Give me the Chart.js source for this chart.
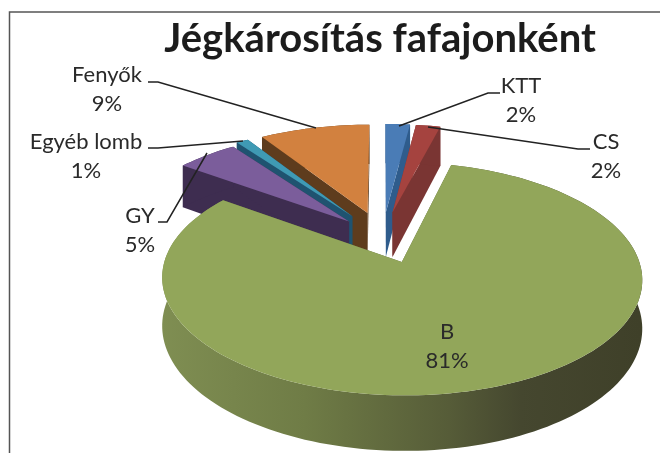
<!DOCTYPE html>
<html>
<head>
<meta charset="utf-8">
<style>
  html, body { margin: 0; padding: 0; background: #fff; }
  canvas { display: block; filter: blur(0.4px); }
</style>
</head>
<body>
<canvas id="pieChart" width="660" height="453"></canvas>
<script src="https://cdn.jsdelivr.net/npm/chart.js@4"></script>
<script>
const categories = ['KTT', 'CS', 'B', 'GY', 'Egyéb lomb', 'Fenyők'];
const values = [2, 2, 81, 5, 1, 9];
const topColors = ['#4a7cb6', '#a5433f', '#92a65a', '#7b5d9b', '#3f9ab4', '#d2813f'];
const wallColors = ['#2f5c8c', '#7a3533', '#5f6a3c', '#3e2d50', '#1f5370', '#5e3c1d'];
const offsets = [24, 24, 24, 21, 24, 24];
const title = 'Jégkárosítás fafajonként';

// label centre + leader line for each slice, same order as categories
const labelPos = [
  { x: 521, y: 86, line: [[399, 126], [488, 93], [500, 93]] },
  { x: 606, y: 142, line: [[428, 127], [578, 149], [590, 149]] },
  { x: 447, y: 332, line: null },
  { x: 140, y: 216, line: [[207, 153], [167, 222], [158, 222]] },
  { x: 86, y: 142, line: [[243, 141], [158, 148], [148, 148]] },
  { x: 107, y: 75, line: [[316, 128], [158, 82], [148, 82]] }
];

// fake 3D: perspective view of the pie plane
const view = { cx: 382.5, cy: 237, a: 230, b: 107, k: 0.14, depth: 46 };
const drawOrder = [5, 4, 3, 0, 1, 2];

function project(u, v) {
  const w = 1 - view.k * v;
  return { x: view.cx + view.a * u / w, y: view.cy + view.b * v / w, d: view.depth / w };
}

function slicePoints(arc) {
  const p = arc.getProps(['startAngle', 'endAngle', 'outerRadius'], true);
  const e = arc.options.offset / p.outerRadius;
  const mid = (p.startAngle + p.endAngle) / 2;
  const ox = e * Math.cos(mid), oy = e * Math.sin(mid);
  const steps = Math.max(2, Math.ceil((p.endAngle - p.startAngle) / 0.03));
  const rim = [];
  for (let i = 0; i <= steps; i++) {
    const t = p.startAngle + (p.endAngle - p.startAngle) * i / steps;
    rim.push(project(ox + Math.cos(t), oy + Math.sin(t)));
  }
  return { apex: project(ox, oy), rim };
}

function fillPath(ctx, pts, color) {
  ctx.beginPath();
  pts.forEach((q, i) => i ? ctx.lineTo(q.x, q.y) : ctx.moveTo(q.x, q.y));
  ctx.closePath();
  ctx.fillStyle = color;
  ctx.fill();
}

const lowered = (q) => ({ x: q.x, y: q.y + q.d });

const pie3d = {
  id: 'pie3d',
  beforeDatasetsDraw(chart) {
    const ctx = chart.ctx;
    const arcs = chart.getDatasetMeta(0).data;
    drawOrder.forEach((i) => {
      const s = slicePoints(arcs[i]);
      let rimFill = wallColors[i];
      if (i === 2) {
        rimFill = ctx.createLinearGradient(162, 0, 640, 0);
        rimFill.addColorStop(0, '#7f8e52');
        rimFill.addColorStop(0.3, '#6f7c46');
        rimFill.addColorStop(0.6, '#565c38');
        rimFill.addColorStop(0.75, '#45472f');
        rimFill.addColorStop(1, '#3f4029');
      }
      const first = s.rim[0], last = s.rim[s.rim.length - 1];
      fillPath(ctx, [s.apex, first, lowered(first), lowered(s.apex)], wallColors[i]);
      fillPath(ctx, [s.apex, last, lowered(last), lowered(s.apex)], wallColors[i]);
      fillPath(ctx, s.rim.concat(s.rim.slice().reverse().map(lowered)), rimFill);
      fillPath(ctx, [s.apex].concat(s.rim), topColors[i]);
    });
    return false; // the flat arcs are replaced by the ones above
  },
  afterDraw(chart) {
    const ctx = chart.ctx;
    ctx.save();
    // frame of the scanned chart
    ctx.strokeStyle = '#555';
    ctx.lineWidth = 1.5;
    ctx.beginPath();
    ctx.moveTo(9.5, 453);
    ctx.lineTo(9.5, 12);
    ctx.lineTo(660, 12);
    ctx.stroke();

    ctx.strokeStyle = '#222';
    ctx.lineWidth = 1.5;
    ctx.fillStyle = '#2a2a2a';
    ctx.font = '22px Lato';
    ctx.textAlign = 'center';
    ctx.textBaseline = 'middle';
    categories.forEach((name, i) => {
      const pos = labelPos[i];
      ctx.fillText(name, pos.x, pos.y);
      ctx.fillText(values[i] + '%', pos.x, pos.y + 29);
      if (pos.line) {
        ctx.beginPath();
        pos.line.forEach((q, j) => j ? ctx.lineTo(q[0], q[1]) : ctx.moveTo(q[0], q[1]));
        ctx.stroke();
      }
    });
    ctx.restore();
  }
};

new Chart(document.getElementById('pieChart').getContext('2d'), {
  type: 'pie',
  data: {
    labels: categories,
    datasets: [{ data: values, backgroundColor: topColors, borderWidth: 0, offset: offsets }]
  },
  options: {
    responsive: false,
    animation: false,
    radius: 100,
    layout: { padding: { left: 100 } },
    plugins: {
      legend: { display: false },
      tooltip: { enabled: false },
      title: {
        display: true,
        text: title,
        color: '#1c1c1c',
        font: { family: 'Lato', size: 40, weight: 'bold' },
        padding: { top: 15, bottom: 0 }
      }
    }
  },
  plugins: [pie3d]
});
</script>
</body>
</html>
